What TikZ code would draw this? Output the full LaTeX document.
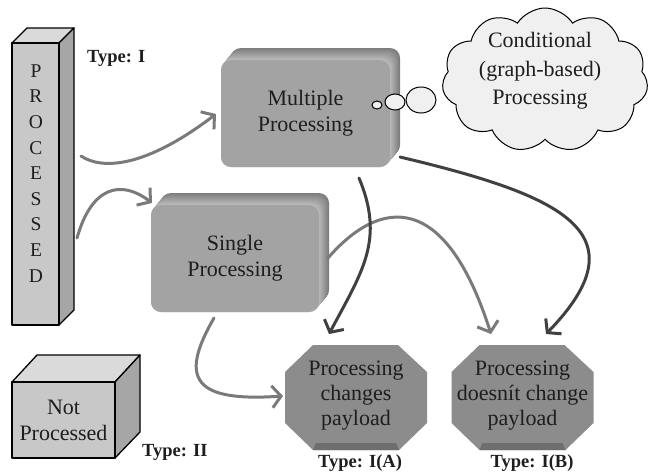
\documentclass[tikz,border=0pt]{standalone}
\usepackage{fontspec}
\setmainfont{Liberation Serif}
\usetikzlibrary{arrows.meta,shapes.symbols,shapes.geometric}
\definecolor{txt}{HTML}{1E1E1E}
\definecolor{facegray}{HTML}{A3A3A3}
\definecolor{bevtop}{HTML}{7C7C7C}
\definecolor{bevside}{HTML}{BDBDBD}
\definecolor{octgray}{HTML}{8C8C8C}
\definecolor{octbase}{HTML}{6E6E6E}
\definecolor{cubefront}{HTML}{C8C8C8}
\definecolor{cubetop}{HTML}{DADADA}
\definecolor{cubeside}{HTML}{A6A6A6}
\definecolor{cloudfill}{HTML}{F0F0F0}
\definecolor{lightarrow}{HTML}{7A7A7A}
\definecolor{darkarrow}{HTML}{404040}
\tikzset{
  bigtext/.style={font=\fontsize{22}{26}\selectfont, text=txt, align=center},
  typelabel/.style={font=\fontsize{18.5}{20}\selectfont\bfseries, text=txt, inner sep=0},
  frontbox/.style={bigtext, fill=facegray, rounded corners=10pt, inner sep=0},
  cubeline/.style={draw=black, line width=1.3pt, line join=round},
  lightflow/.style={draw=lightarrow, line width=3pt, line cap=round,
    -{Straight Barb[length=9pt,width=22pt,line width=3pt]}},
  darkflow/.style={draw=darkarrow, line width=3pt, line cap=round,
    -{Straight Barb[length=9pt,width=22pt,line width=3pt]}},
}
% extruded rounded box behind a front face (x1,y1,x2,y2); layers from back (dark) to front (light)
\newcommand{\bevelbox}[4]{%
  \foreach \i in {20,19,...,0}{
    \pgfmathsetmacro\dx{10*\i/20}
    \pgfmathsetmacro\dy{12*\i/20}
    \pgfmathtruncatemacro\pc{100-5*\i}
    \fill[bevside!\pc!bevtop, rounded corners=10pt]
      ({#1+\dx},{#2-\dy}) rectangle ({#3+\dx},{#4-\dy});
  }
}
\begin{document}
\begin{tikzpicture}[x=1pt,y=-1pt]
\useasboundingbox (0,0) rectangle (652,471);

% ---- PROCESSED pillar ----
\filldraw[cubeline, fill=cubetop] (12,43) -- (27,28) -- (74,28) -- (59,43) -- cycle;
\filldraw[cubeline, fill=cubeside] (59,43) -- (74,28) -- (74,310) -- (59,325) -- cycle;
\filldraw[cubeline, fill=cubefront] (12,43) rectangle (59,325);
\foreach \ch [count=\i from 0] in {P,R,O,C,E,S,S,E,D}
  \node[font=\fontsize{19.5}{20}\selectfont, text=txt] at (36,{71+25.6*\i}) {\ch};
\node[typelabel, anchor=west] (typeI) at (87,58) {Type: I};

% ---- Multiple Processing box ----
\bevelbox{221}{60}{390}{167}
\node[frontbox, minimum width=169pt, minimum height=107pt] (multi) at (305.5,113.5) {Multiple\\Processing};

% ---- Single Processing box ----
\bevelbox{151}{205}{319}{312}
\node[frontbox, minimum width=168pt, minimum height=107pt] (single) at (235,258.5) {Single\\Processing};

% ---- thought bubbles and cloud ----
\filldraw[cloudfill, draw=black, line width=1pt] (377,105) ellipse (5pt and 4pt);
\filldraw[cloudfill, draw=black, line width=1pt] (395,102) ellipse (10pt and 8pt);
\filldraw[cloudfill, draw=black, line width=1pt] (421,100) ellipse (15pt and 13pt);
\node[cloud, cloud puffs=11, cloud puff arc=115, aspect=1.45, draw=black, line width=1pt,
      fill=cloudfill, minimum width=206pt, minimum height=144pt, inner sep=0] (cloud) at (545,80) {};
\node[bigtext, font=\fontsize{22}{28.5}\selectfont] (cloudtext) at (540,71) {Conditional\\(graph-based)\\Processing};

% ---- Not Processed cube ----
\filldraw[cubeline, fill=cubetop] (12,382) -- (37,355) -- (140,355) -- (115,382) -- cycle;
\filldraw[cubeline, fill=cubeside] (115,382) -- (140,355) -- (140,432) -- (115,458) -- cycle;
\filldraw[cubeline, fill=cubefront] (12,382) rectangle (115,458);
\node[bigtext] (notproc) at (63.5,420) {Not\\Processed};
\node[typelabel, anchor=west] (typeII) at (142,452) {Type: II};

% ---- outcome octagons ----
\foreach \cx/\nm in {356/octA, 522.5/octB}{
  \fill[octgray] (\cx-71,372) -- (\cx-43,345) -- (\cx+42,345) -- (\cx+71,372)
      -- (\cx+71,423) -- (\cx+43,450) -- (\cx-43,450) -- (\cx-71,423) -- cycle;
  \fill[octbase] (\cx-40,443) -- (\cx+40,443) -- (\cx+43,450) -- (\cx-43,450) -- cycle;
  \coordinate (\nm) at (\cx,396);
}
\node[bigtext, font=\fontsize{22}{25}\selectfont] (octAtext) at (octA) {Processing\\changes\\payload};
\node[bigtext, font=\fontsize{22}{25}\selectfont] (octBtext) at (octB) {Processing\\doesn\'{\i}t change\\payload};
\node[typelabel] (typeIA) at (360,463) {Type: I(A)};
\node[typelabel] (typeIB) at (532,463) {Type: I(B)};

% ---- connector end points ----
\coordinate (pA) at (81,156);
\coordinate (pB) at (77,238);
\coordinate (multiIn) at (216,114);
\coordinate (singleIn) at (152,203);
\coordinate (singleOut) at (214,318);
\coordinate (singleRight) at (328,258);
\coordinate (octAleft) at (283,396);
\coordinate (octAtop) at (329,334);
\coordinate (octBtopL) at (491,334);
\coordinate (octBtopR) at (546,334);
\coordinate (multiBottom) at (359,178);
\coordinate (multiRight) at (400,157);

% ---- connectors ----
\draw[lightflow] (pA) .. controls (102,170) and (145,168) .. (multiIn);
\draw[lightflow] (pB) .. controls (92,185) and (122,180) .. (singleIn);
\draw[lightflow] (singleOut) .. controls (178,380) and (195,402) .. (octAleft);
\draw[lightflow] (singleRight) .. controls (380,198) and (445,190) .. (octBtopL);
\draw[darkflow] (multiBottom) .. controls (385,240) and (362,272) .. (octAtop);
\draw[darkflow] (multiRight) .. controls (560,195) and (645,232) .. (octBtopR);
\end{tikzpicture}
\end{document}
